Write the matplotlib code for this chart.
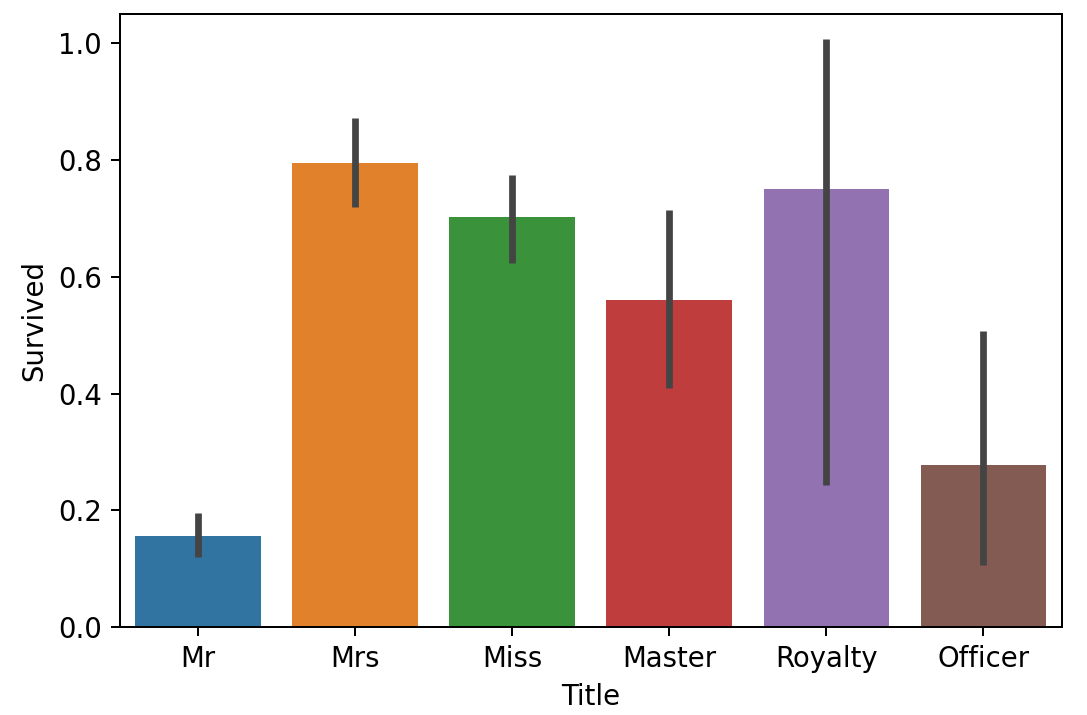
import numpy as np
import matplotlib.pyplot as plt

plt.rcParams['font.family'] = 'DejaVu Sans'
plt.rcParams['font.size'] = 11

# data
titles = ['Mr', 'Mrs', 'Miss', 'Master', 'Royalty', 'Officer']
survived = [0.156, 0.796, 0.702, 0.561, 0.750, 0.278]
ci_low = [0.120, 0.719, 0.624, 0.410, 0.244, 0.106]
ci_high = [0.196, 0.873, 0.774, 0.714, 1.007, 0.508]
colors = ['#3274a1', '#e1812c', '#3a923a', '#c03d3e', '#9372b2', '#845b53']

fig = plt.figure(figsize=(1087 / 180, 715 / 180), dpi=180)
ax = fig.add_axes([0.110, 0.123, 0.867, 0.857])

x = np.arange(len(titles))
ax.bar(x, survived, width=0.8, color=colors)
for xi, lo, hi in zip(x, ci_low, ci_high):
    ax.plot([xi, xi], [lo, hi], color='#444444', lw=2.7, solid_capstyle='butt')

ax.set_xticks(x)
ax.set_xticklabels(titles)
ax.set_xlim(-0.5, len(titles) - 0.5)
ax.set_ylim(0, 1.05)
ax.set_xlabel('Title')
ax.set_ylabel('Survived')

fig.savefig('out.png', dpi=180)
